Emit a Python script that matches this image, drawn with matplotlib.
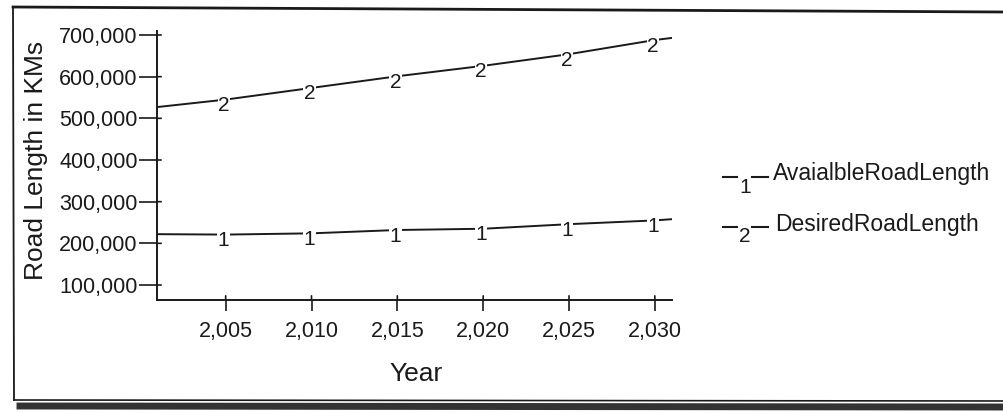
import matplotlib
matplotlib.use("Agg")
import matplotlib.pyplot as plt
from matplotlib.lines import Line2D
from matplotlib.ticker import FuncFormatter
from matplotlib.transforms import offset_copy

plt.rcParams['font.family'] = ['Liberation Sans', 'DejaVu Sans']

years = [2001, 2005, 2010, 2015, 2020, 2025, 2030, 2031]
available = [222000, 221000, 224000, 232000, 235000, 246000, 255000, 258000]
desired = [527000, 545000, 573000, 601000, 626000, 654000, 688000, 693000]
marker_years = [2005, 2010, 2015, 2020, 2025, 2030]
series_names = ["AvaialbleRoadLength", "DesiredRoadLength"]
x_ticks = [2005, 2010, 2015, 2020, 2025, 2030]
y_ticks = [100000, 200000, 300000, 400000, 500000, 600000, 700000]

W, H = 1004, 413
fig = plt.figure(figsize=(W / 100, H / 100), dpi=100)
ax = fig.add_axes([157 / W, 1 - 300 / H, 515 / W, 269 / H])

ink = "#1a1a1a"


def px(x, y):
    """Pixel position (from top-left) to figure fraction."""
    return x / W, 1 - y / H


# series lines with their numbered markers sitting just under the line
num_trans = offset_copy(ax.transData, fig=fig, x=-2, y=-6, units="dots")
for vals, num in ((available, "1"), (desired, "2")):
    ax.plot(years, vals, color=ink, lw=1.4, solid_capstyle="butt")
    for yr in marker_years:
        v = vals[years.index(yr)]
        ax.text(yr, v, num, ha="center", va="center", fontsize=15, color=ink,
                bbox=dict(facecolor="white", edgecolor="none", pad=0.3),
                transform=num_trans)

ax.set_xlim(2001, 2031)
ax.set_ylim(64000, 709600)
ax.set_xticks(x_ticks)
ax.set_yticks(y_ticks)
fmt = FuncFormatter(lambda v, p: f"{int(v):,}")
ax.xaxis.set_major_formatter(fmt)
ax.yaxis.set_major_formatter(fmt)
ax.tick_params(axis="both", direction="out", width=1.2, colors=ink, labelsize=15.5)
ax.tick_params(axis="y", length=13, pad=1)
ax.tick_params(axis="x", length=8, pad=7)
for side in ("top", "right"):
    ax.spines[side].set_visible(False)
for side in ("left", "bottom"):
    ax.spines[side].set_linewidth(1.4)
    ax.spines[side].set_color(ink)

# short inner stubs so the ticks cross the axes
for t in y_ticks:
    ax.annotate("", xy=(0, t), xycoords=("axes fraction", "data"),
                xytext=(3, 0), textcoords="offset points",
                arrowprops=dict(arrowstyle="-", color=ink, lw=1.2, shrinkA=0, shrinkB=0))
for t in x_ticks:
    ax.annotate("", xy=(t, 0), xycoords=("data", "axes fraction"),
                xytext=(0, 3), textcoords="offset points",
                arrowprops=dict(arrowstyle="-", color=ink, lw=1.2, shrinkA=0, shrinkB=0))

fig.text(*px(416, 374), "Year", fontsize=19, color=ink, ha="center", va="center")
fig.text(*px(36, 160), "Road Length in KMs", fontsize=19, color=ink,
         ha="center", va="center", rotation=90)

# legend entries: dash, subscript series number, dash, name
rows = [(177, 187, 174, 773), (227, 237, 224, 775)]
for (dash_y, num_y, text_y, text_x), name, num in zip(rows, series_names, ("1", "2")):
    for x0, x1 in ((723, 737), (752, 768)):
        fig.add_artist(Line2D([x0 / W, x1 / W], [1 - dash_y / H] * 2,
                              transform=fig.transFigure, color=ink, lw=1.5))
    fig.text(*px(745, num_y), num, fontsize=15, color=ink, ha="center", va="center")
    fig.text(*px(text_x, text_y), name, fontsize=16.5, color=ink, ha="left", va="center")

# outer frame
fig.add_artist(Line2D([13 / W, 1.0], [1 - 7 / H, 1 - 12 / H], transform=fig.transFigure,
                      color=ink, lw=2))
fig.add_artist(Line2D([13 / W, 14 / W], [1 - 7 / H, 1 - 400 / H], transform=fig.transFigure,
                      color=ink, lw=1.3))
fig.add_artist(Line2D([14 / W, 1.0], [1 - 400 / H, 1 - 401 / H], transform=fig.transFigure,
                      color=ink, lw=1.2))
fig.add_artist(Line2D([20 / W, 1.0], [1 - 406 / H, 1 - 407 / H], transform=fig.transFigure,
                      color="#333333", lw=5))

fig.savefig("out.png", dpi=100)
